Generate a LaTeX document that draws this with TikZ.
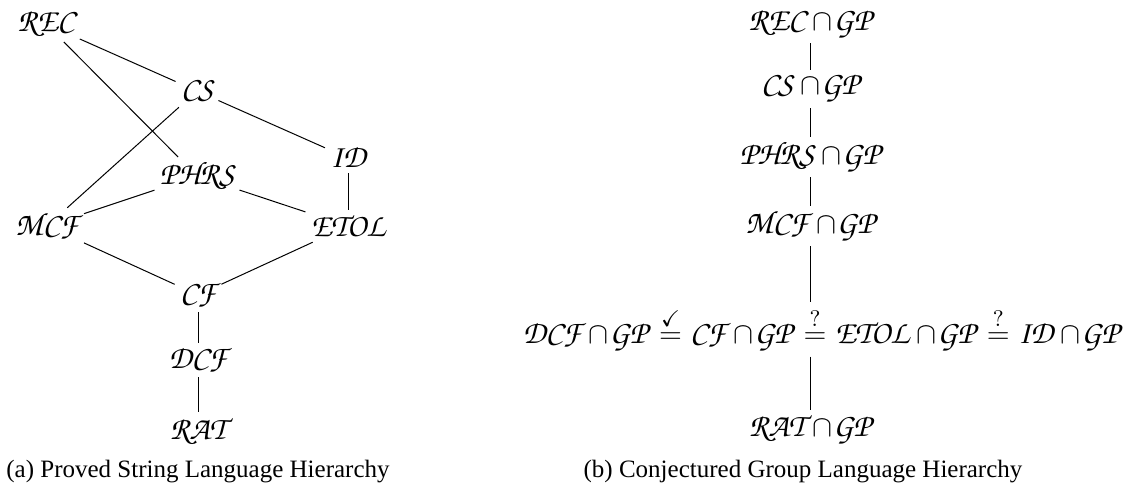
\documentclass[tikz,border=0pt]{standalone}
\usepackage{amsmath}
\usepackage{amssymb}
\usepackage{fontspec}
\setmainfont{Liberation Serif}
\newfontfamily\chorus{TeX Gyre Chorus}
\usepackage{tikz}
\usetikzlibrary{positioning}
\tikzset{lang node/.style={inner sep=2pt, font=\fontsize{13}{15}\selectfont}}
\tikzset{hier edge/.style={draw=black, line width=0.4pt}}
\tikzset{caption/.style={inner sep=0pt, font=\fontsize{10}{12}\selectfont}}
\newcommand{\lang}[1]{\mbox{\chorus #1}}
\newcommand{\grp}[1]{\lang{#1}\mkern4.5mu{\cap}\mkern0.5mu\lang{GP}}
\newcommand{\releq}[1]{\mkern2mu\stackrel{#1}{=}\mkern0mu}

\begin{document}
\begin{tikzpicture}
      [x=4pt, y=4pt]
      \useasboundingbox (0, 0) rectangle (112.3, 49.6);

      % (a) string languages
      \begin{scope}
        \node [lang node] (rec)  at ( 4.6, 47.2) {\lang{REC}};
        \node [lang node] (cs)   at (19.7, 40.5) {\lang{CS}};
        \node [lang node] (id)   at (34.8, 33.8) {\lang{ID}};
        \node [lang node] (phrs) at (19.7, 32.0) {\lang{PHRS}};
        \node [lang node] (mcf)  at ( 4.7, 27.0) {\lang{MCF}};
        \node [lang node] (etol) at (34.8, 27.0) {\lang{ETOL}};
        \node [lang node] (cf)   at (19.8, 20.1) {\lang{CF}};
        \node [lang node] (dcf)  at (19.8, 13.6) {\lang{DCF}};
        \node [lang node] (rat)  at (19.8,  6.5) {\lang{RAT}};
        \node [caption]   (capa) at (19.8,  2.4) {(a) Proved String Language Hierarchy};

        \draw [hier edge] (rec)  to (cs);
        \draw [hier edge] (rec)  to (phrs);
        \draw [hier edge] (cs)   to (id);
        \draw [hier edge] (cs)   to (mcf);
        \draw [hier edge] (id)   to (etol);
        \draw [hier edge] (phrs) to (mcf);
        \draw [hier edge] (phrs) to (etol);
        \draw [hier edge] (mcf)  to (cf);
        \draw [hier edge] (etol) to (cf);
        \draw [hier edge] (cf)   to (dcf);
        \draw [hier edge] (dcf)  to (rat);
      \end{scope}

      % (b) group languages
      \begin{scope}
        \node [lang node] (recg)  at (81.0, 47.2) {$\grp{REC}$};
        \node [lang node] (csg)   at (81.0, 40.7) {$\grp{CS}$};
        \node [lang node] (phrsg) at (81.0, 33.9) {$\grp{PHRS}$};
        \node [lang node] (mcfg)  at (81.0, 27.0) {$\grp{MCF}$};
        \node [lang node] (row)   at (82.1, 16.7)
          {$\grp{DCF}\releq{\checkmark}\grp{CF}\releq{?}\grp{ETOL}\releq{?}\grp{ID}$};
        \node [lang node] (ratg)  at (81.0,  6.6) {$\grp{RAT}$};
        \node [caption]   (capb)  at (80.3,  2.4) {(b) Conjectured Group Language Hierarchy};

        \draw [hier edge] (recg)  to (csg);
        \draw [hier edge] (csg)   to (phrsg);
        \draw [hier edge] (phrsg) to (mcfg);
        \draw [hier edge] (mcfg)  to (mcfg |- row.north);
        \draw [hier edge] (ratg |- row.south) to (ratg);
      \end{scope}
    \end{tikzpicture}
\end{document}
